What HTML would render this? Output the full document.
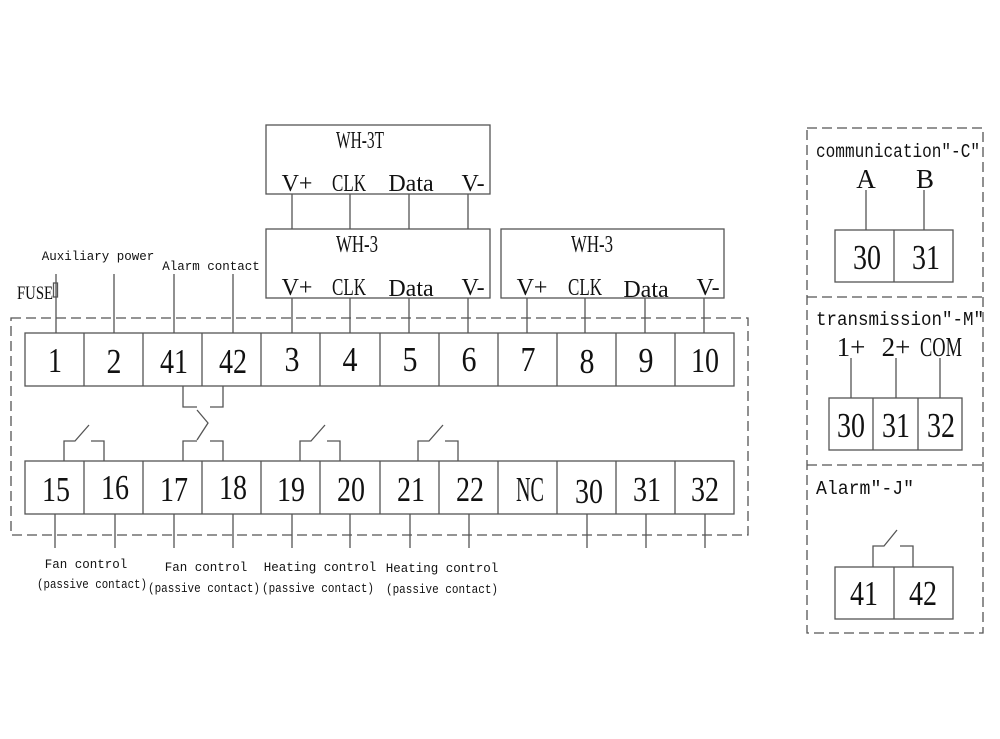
<!DOCTYPE html>
<html><head><meta charset="utf-8"><style>
html,body{margin:0;padding:0;background:#fff;}
svg{display:block}
.n{font-family:"Liberation Serif",serif;font-size:35px;fill:#111;text-anchor:middle}
.m{font-family:"Liberation Serif",serif;font-size:24px;fill:#111;text-anchor:middle}
.s{font-family:"Liberation Mono",monospace;font-size:12.5px;fill:#111;text-anchor:middle}
.t{font-family:"Liberation Mono",monospace;font-size:19px;fill:#111}
</style></head><body>
<svg width="1000" height="739" viewBox="0 0 1000 739" xmlns="http://www.w3.org/2000/svg">
<g stroke="#555" stroke-width="1.3" fill="none">
<rect x="11" y="318" width="737" height="217" stroke-dasharray="10,5"/>
<rect x="25" y="333" width="709" height="53"/>
<path d="M84 333V386M143 333V386M202 333V386M261 333V386M320 333V386M380 333V386M439 333V386M498 333V386M557 333V386M616 333V386M675 333V386"/>
<rect x="25" y="461" width="709" height="53"/>
<path d="M84 461V514M143 461V514M202 461V514M261 461V514M320 461V514M380 461V514M439 461V514M498 461V514M557 461V514M616 461V514M675 461V514"/>
<rect x="266" y="125" width="224" height="69"/>
<rect x="266" y="229" width="224" height="69"/>
<rect x="501" y="229" width="223" height="69"/>
<path d="M292 194V229M350 194V229M409 194V229M468 194V229"/>
<path d="M292 298V333M350 298V333M409 298V333M468 298V333"/>
<path d="M527 298V333M585 298V333M645 298V333M704 298V333"/>
<path d="M56 274V333M114 274V333M174 274V333M233 274V333"/>
<rect x="53.5" y="283" width="4" height="14"/>
<path d="M183 386V407H197M210 407H223V386M197 410L208 423L197 440"/>
<path d="M64 461V441H75L89 425M91 441H104V461"/>
<path d="M183 461V441H197M210 441H223V461"/>
<path d="M300 461V441H311L325 425M327 441H340V461"/>
<path d="M418 461V441H429L443 425M445 441H458V461"/>
<path d="M55 514V548M115 514V548M174 514V548M233 514V548M292 514V548M350 514V548M410 514V548M469 514V548M587 514V548M646 514V548M705 514V548"/>
<rect x="807" y="128" width="176" height="505" stroke-dasharray="10,5"/>
<path d="M807 297H983M807 465H983" stroke-dasharray="10,5"/>
<rect x="835" y="230" width="118" height="52"/>
<path d="M894 230V282M866 190V230M924 190V230"/>
<rect x="829" y="398" width="133" height="52"/>
<path d="M873 398V450M918 398V450M851 358V398M896 358V398M940 358V398"/>
<rect x="835" y="567" width="118" height="52"/>
<path d="M894 567V619M873 567V546H884L897 530M900 546H913V567"/>
</g>
<g class="n">
<text x="55" y="372" textLength="14" lengthAdjust="spacingAndGlyphs">1</text>
<text x="114" y="373" textLength="15" lengthAdjust="spacingAndGlyphs">2</text>
<text x="174" y="373" textLength="28" lengthAdjust="spacingAndGlyphs">41</text>
<text x="233" y="373" textLength="28" lengthAdjust="spacingAndGlyphs">42</text>
<text x="292" y="371" textLength="15" lengthAdjust="spacingAndGlyphs">3</text>
<text x="350" y="371" textLength="15" lengthAdjust="spacingAndGlyphs">4</text>
<text x="410" y="371" textLength="15" lengthAdjust="spacingAndGlyphs">5</text>
<text x="469" y="371" textLength="15" lengthAdjust="spacingAndGlyphs">6</text>
<text x="528" y="371" textLength="15" lengthAdjust="spacingAndGlyphs">7</text>
<text x="587" y="373" textLength="15" lengthAdjust="spacingAndGlyphs">8</text>
<text x="646" y="372" textLength="15" lengthAdjust="spacingAndGlyphs">9</text>
<text x="705" y="372" textLength="28" lengthAdjust="spacingAndGlyphs">10</text>
</g>
<g class="n">
<text x="56" y="501" textLength="28" lengthAdjust="spacingAndGlyphs">15</text>
<text x="115" y="499" textLength="28" lengthAdjust="spacingAndGlyphs">16</text>
<text x="174" y="501" textLength="28" lengthAdjust="spacingAndGlyphs">17</text>
<text x="233" y="499" textLength="28" lengthAdjust="spacingAndGlyphs">18</text>
<text x="291" y="501" textLength="28" lengthAdjust="spacingAndGlyphs">19</text>
<text x="351" y="501" textLength="28" lengthAdjust="spacingAndGlyphs">20</text>
<text x="411" y="501" textLength="28" lengthAdjust="spacingAndGlyphs">21</text>
<text x="470" y="501" textLength="28" lengthAdjust="spacingAndGlyphs">22</text>
<text x="530" y="501" textLength="28" lengthAdjust="spacingAndGlyphs">NC</text>
<text x="589" y="503" textLength="28" lengthAdjust="spacingAndGlyphs">30</text>
<text x="647" y="501" textLength="28" lengthAdjust="spacingAndGlyphs">31</text>
<text x="705" y="501" textLength="28" lengthAdjust="spacingAndGlyphs">32</text>
</g>
<g class="m">
<text x="360" y="148" textLength="48" lengthAdjust="spacingAndGlyphs">WH-3T</text>
<text x="297" y="191">V+</text><text x="349" y="191" textLength="34" lengthAdjust="spacingAndGlyphs">CLK</text><text x="411" y="191">Data</text><text x="473" y="191">V-</text>
<text x="357" y="252" textLength="42" lengthAdjust="spacingAndGlyphs">WH-3</text>
<text x="297" y="295">V+</text><text x="349" y="295" textLength="34" lengthAdjust="spacingAndGlyphs">CLK</text><text x="411" y="296">Data</text><text x="473" y="295">V-</text>
<text x="592" y="252" textLength="42" lengthAdjust="spacingAndGlyphs">WH-3</text>
<text x="532" y="295">V+</text><text x="585" y="295" textLength="34" lengthAdjust="spacingAndGlyphs">CLK</text><text x="646" y="297">Data</text><text x="708" y="295">V-</text>
<text x="35" y="299" font-size="19" textLength="36" lengthAdjust="spacingAndGlyphs">FUSE</text>
</g>
<g class="s">
<text x="98" y="260">Auxiliary power</text>
<text x="211" y="270">Alarm contact</text>
<text x="86" y="568">Fan control</text>
<text x="92" y="588" textLength="110" lengthAdjust="spacingAndGlyphs">(passive contact)</text>
<text x="206" y="571">Fan control</text>
<text x="204" y="592" textLength="112" lengthAdjust="spacingAndGlyphs">(passive contact)</text>
<text x="320" y="571">Heating control</text>
<text x="318" y="592" textLength="112" lengthAdjust="spacingAndGlyphs">(passive contact)</text>
<text x="442" y="572">Heating control</text>
<text x="442" y="593" textLength="112" lengthAdjust="spacingAndGlyphs">(passive contact)</text>
</g>
<g class="t">
<text x="816" y="157" textLength="164" lengthAdjust="spacingAndGlyphs">communication"-C"</text>
<text x="816" y="325" textLength="168" lengthAdjust="spacingAndGlyphs">transmission"-M"</text>
<text x="816" y="494" textLength="98" lengthAdjust="spacingAndGlyphs">Alarm"-J"</text>
</g>
<g class="m">
<text x="866" y="188" font-size="27">A</text><text x="925" y="188" font-size="27">B</text>
<text x="851" y="356" font-size="27">1+</text><text x="896" y="356" font-size="27">2+</text>
<text x="941" y="356" font-size="27" textLength="42" lengthAdjust="spacingAndGlyphs">COM</text>
</g>
<g class="n">
<text x="867" y="269" textLength="28" lengthAdjust="spacingAndGlyphs">30</text>
<text x="926" y="269" textLength="28" lengthAdjust="spacingAndGlyphs">31</text>
<text x="851" y="437" textLength="28" lengthAdjust="spacingAndGlyphs">30</text>
<text x="896" y="437" textLength="28" lengthAdjust="spacingAndGlyphs">31</text>
<text x="941" y="437" textLength="28" lengthAdjust="spacingAndGlyphs">32</text>
<text x="864" y="605" textLength="28" lengthAdjust="spacingAndGlyphs">41</text>
<text x="923" y="605" textLength="28" lengthAdjust="spacingAndGlyphs">42</text>
</g>
</svg>
</body></html>
